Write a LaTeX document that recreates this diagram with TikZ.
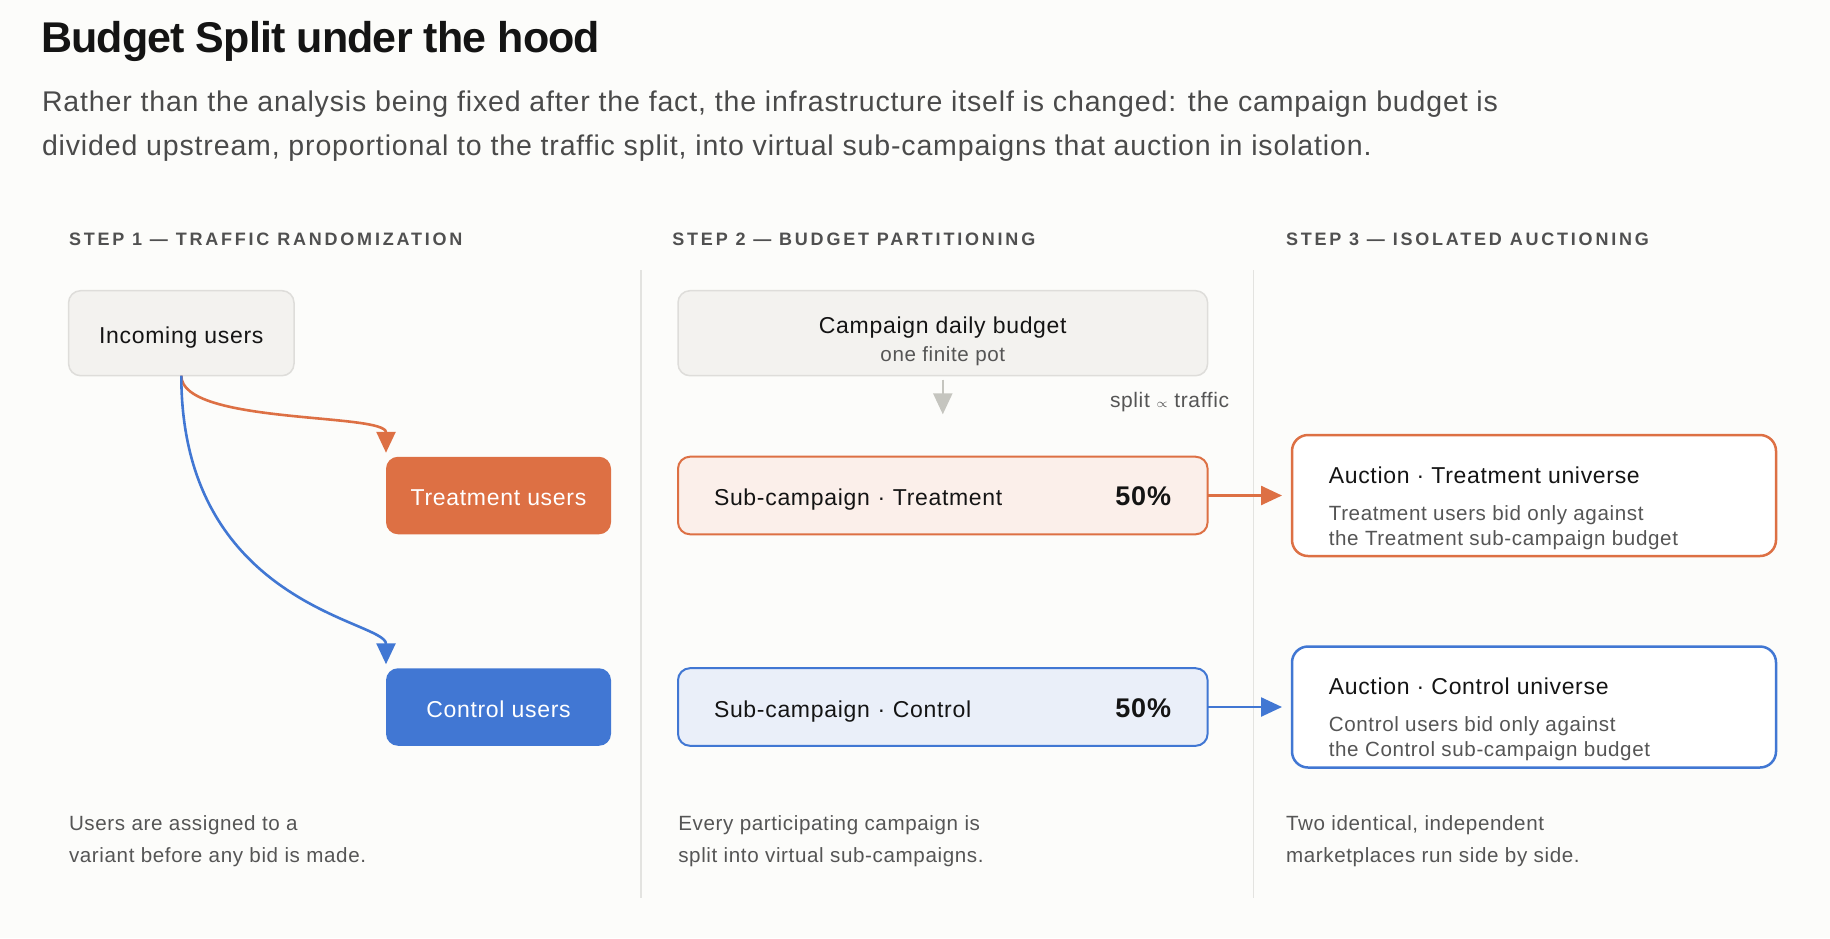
\documentclass[tikz,border=0pt]{standalone}
\usepackage{fontspec}
\setmainfont{Liberation Sans}
\newfontfamily\uifont[LetterSpace=3]{Liberation Sans}
\newfontfamily\capsfont[LetterSpace=15.5]{Liberation Sans}
\newfontfamily\titlefont[LetterSpace=-2]{Liberation Sans}
\usepackage{tikz}
\usetikzlibrary{positioning,arrows.meta}

\definecolor{pagebg}{HTML}{FCFCFA}
\definecolor{boxfill}{HTML}{F3F2EF}
\definecolor{boxline}{HTML}{DEDDDA}
\definecolor{rulegrey}{HTML}{E3E3E0}
\definecolor{treatcol}{HTML}{DD7044}
\definecolor{treatlight}{HTML}{FBEFEA}
\definecolor{ctrlcol}{HTML}{4177D3}
\definecolor{ctrllight}{HTML}{EAEFF9}
\definecolor{splitgrey}{HTML}{C5C5BF}
\definecolor{inkdark}{HTML}{141414}
\definecolor{inklead}{HTML}{4A4A4A}
\definecolor{inkstep}{HTML}{505050}
\definecolor{inkgrey}{HTML}{555555}

\begin{document}
\begin{tikzpicture}[x=0.5pt,y=-0.5pt,node distance=33.5pt,>={Triangle[length=10.5pt,width=9.5pt]},
  every node/.style={inner sep=0pt,outer sep=0pt},
  titletext/.style={font=\titlefont\bfseries\fontsize{21.5pt}{26pt}\selectfont,text=inkdark,anchor=base west},
  leadtext/.style={font=\uifont\fontsize{14.25pt}{17pt}\selectfont,text=inklead,anchor=base west},
  steptext/.style={font=\capsfont\bfseries\fontsize{9pt}{11pt}\selectfont,text=inkstep,anchor=base west},
  notetext/.style={font=\uifont\fontsize{10.3pt}{16pt}\selectfont,text=inkgrey,anchor=base west,align=left},
  desctext/.style={font=\uifont\fontsize{10.3pt}{12.5pt}\selectfont,text=inkgrey,anchor=base west,align=left},
  boxtext/.style={font=\uifont\fontsize{11.5pt}{14pt}\selectfont,text=inkdark},
  pcttext/.style={font=\uifont\bfseries\fontsize{13.5pt}{16pt}\selectfont,text=inkdark,anchor=base east},
  greybox/.style={draw=boxline,line width=0.75pt,fill=boxfill,rounded corners=6pt,minimum height=42.5pt},
  userbox/.style={boxtext,text=white,rounded corners=6pt,minimum width=112.5pt,minimum height=38.75pt,text height=10pt,text depth=0pt},
  subbox/.style={boxtext,line width=1pt,rounded corners=6pt,minimum height=38.8pt,text width=228.8pt,inner xsep=18pt,align=left,text height=10pt,text depth=0pt},
  auctionbox/.style={line width=1.25pt,fill=white,rounded corners=8pt,minimum width=242pt,minimum height=60.5pt},
  flow/.style={->,line width=1.3pt},
  divider/.style={draw=rulegrey,line width=0.75pt}]

    \fill[pagebg] (0,0) rectangle (1830,938);
    \useasboundingbox (0,0) rectangle (1830,938);

    %Title
    \node[titletext] (title) at (41,52) {Budget Split under the hood};
    \node[leadtext] (leadone) at (42,111) {Rather than the analysis being fixed after the fact, the infrastructure itself is changed: the campaign budget is};
    \node[leadtext] (leadtwo) at (42,155) {divided upstream, proportional to the traffic split, into virtual sub-campaigns that auction in isolation.};

    %Step headers
    \node[steptext] (stepone) at (69,245) {STEP 1 — TRAFFIC RANDOMIZATION};
    \node[steptext] (steptwo) at (672.4,245) {STEP 2 — BUDGET PARTITIONING};
    \node[steptext] (stepthree) at (1286,245) {STEP 3 — ISOLATED AUCTIONING};

    %Vertical rules
    \draw[divider] (641,270) -- (641,898);
    \draw[divider] (1253.5,270) -- (1253.5,898);

    %Step 1
    \node[greybox,boxtext,minimum width=112.7pt,text height=10pt,text depth=0pt] (incoming) at (181.3,333.2) {Incoming users};
    \node[userbox,fill=treatcol] (treatment) at (498.5,495.5) {Treatment users};
    \node[userbox,fill=ctrlcol,below=67pt of treatment] (control) {Control users};

    %Step 2
    \node[subbox,draw=treatcol,fill=treatlight,right=of treatment] (subtreat) {Sub-campaign · Treatment};
    \node[subbox,draw=ctrlcol,fill=ctrllight,right=of control] (subctrl) {Sub-campaign · Control};
    \node[pcttext] (pcttreat) at ([xshift=-18.3pt]subtreat.base east) {50\%};
    \node[pcttext] (pctctrl) at ([xshift=-18.3pt]subctrl.base east) {50\%};
    \node[greybox,minimum width=264.8pt,above=40.5pt of subtreat] (budget) {};
    \node[boxtext,anchor=base] (budgettitle) at (budget.center) {Campaign daily budget};
    \node[desctext,anchor=base] (budgetsub) at ([yshift=-14.35pt]budget.center) {one finite pot};
    \coordinate (splittip) at ([yshift=-19.3pt]budget.south);
    \node[notetext,font=\uifont\fontsize{10.5pt}{12pt}\selectfont] (splitnote) at (1110,407) {split {\fontsize{6pt}{6pt}\selectfont$\propto$} traffic};

    %Step 3
    \node[auctionbox,draw=treatcol,right=42.2pt of subtreat] (auctreat) {};
    \node[auctionbox,draw=ctrlcol,right=42.2pt of subctrl] (aucctrl) {};
    \node[boxtext,anchor=base west] (auctreattitle) at ([xshift=18.4pt,yshift=-24.15pt]auctreat.north west) {Auction · Treatment universe};
    \node[desctext] (auctreatdesc) at ([xshift=18.4pt,yshift=-55pt]auctreat.north west) {Treatment users bid only against\\the Treatment sub-campaign budget};
    \node[boxtext,anchor=base west] (aucctrltitle) at ([xshift=18.4pt,yshift=-24.15pt]aucctrl.north west) {Auction · Control universe};
    \node[desctext] (aucctrldesc) at ([xshift=18.4pt,yshift=-55pt]aucctrl.north west) {Control users bid only against\\the Control sub-campaign budget};

    %Notes
    \node[notetext] (noteone) at (69,862.7) {Users are assigned to a\\variant before any bid is made.};
    \node[notetext] (notetwo) at (678.3,862.7) {Every participating campaign is\\split into virtual sub-campaigns.};
    \node[notetext] (notethree) at (1286,862.7) {Two identical, independent\\marketplaces run side by side.};

    %Arrows
    \draw[flow,treatcol] (incoming.south) .. controls +(0,49) and +(0,-40) .. ([yshift=2pt]treatment.north west);
    \draw[flow,ctrlcol] (incoming.south) .. controls +(0,231) and +(0,-44) .. ([yshift=2pt]control.north west);
    \draw[flow,splitgrey,line width=1.2pt] ([yshift=-2pt]budget.south) -- (splittip);
    \draw[flow,treatcol,line width=1.25pt] (subtreat.east) -- ([xshift=-5pt]auctreat.west);
    \draw[flow,ctrlcol,line width=1.25pt] (subctrl.east) -- ([xshift=-5pt]aucctrl.west);

\end{tikzpicture}
\end{document}
